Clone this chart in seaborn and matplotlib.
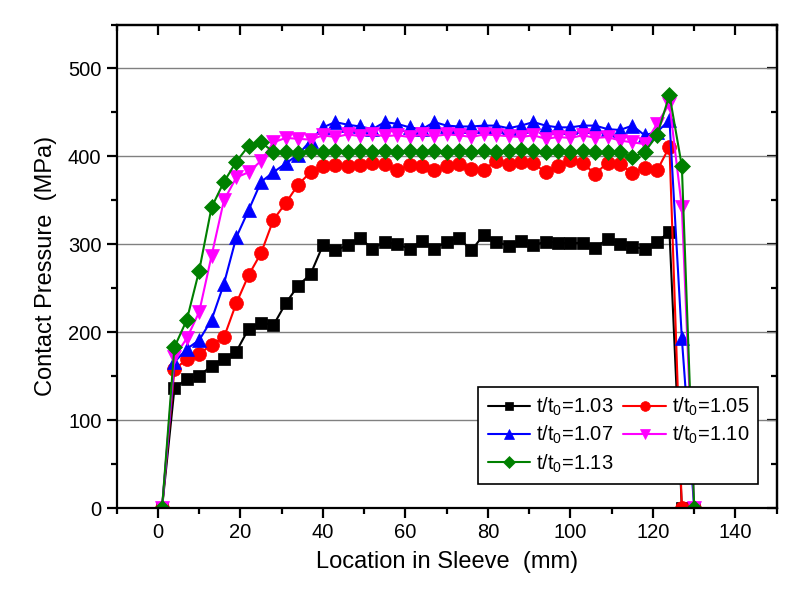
import matplotlib
matplotlib.use("Agg")
import matplotlib.pyplot as plt
import seaborn as sns
from matplotlib.ticker import MultipleLocator

sns.set_style("ticks")
plt.rcParams['font.family'] = ['Liberation Sans', 'DejaVu Sans']
plt.rcParams['mathtext.fontset'] = 'custom'
plt.rcParams['mathtext.rm'] = 'Liberation Sans'
for k in ['text.color', 'axes.labelcolor', 'xtick.color', 'ytick.color', 'axes.edgecolor']:
    plt.rcParams[k] = 'black'

# location in sleeve (mm)
x_mm = [1, 4, 7, 10, 13, 16, 19, 22, 25, 28, 31, 34, 37, 40, 43, 46, 49, 52, 55, 58,
        61, 64, 67, 70, 73, 76, 79, 82, 85, 88, 91, 94, 97, 100, 103, 106, 109, 112,
        115, 118, 121, 124, 127, 130]

# contact pressure (MPa) for each t/t0
p_103 = [0, 136, 147, 150, 162, 170, 178, 204, 211, 208, 233, 253, 266, 299, 293, 299,
         307, 295, 303, 300, 295, 304, 295, 303, 307, 293, 311, 303, 298, 304, 299, 303,
         302, 301, 302, 296, 306, 300, 297, 295, 303, 314, 0, 0]
p_105 = [0, 158, 169, 175, 186, 194, 233, 265, 290, 328, 347, 368, 382, 389, 390, 389,
         390, 392, 391, 384, 390, 389, 384, 389, 391, 386, 385, 395, 391, 394, 392, 382,
         389, 396, 392, 380, 393, 391, 381, 387, 384, 411, 0, 0]
p_107 = [0, 166, 181, 191, 214, 255, 308, 339, 371, 382, 392, 402, 418, 433, 439, 436,
         434, 431, 439, 437, 433, 431, 439, 435, 434, 434, 435, 435, 432, 435, 439, 435,
         433, 433, 435, 435, 431, 430, 435, 424, 428, 441, 193, 0]
p_110 = [0, 172, 193, 223, 287, 350, 376, 382, 395, 416, 421, 420, 419, 424, 422, 425,
         423, 425, 423, 424, 422, 425, 423, 425, 424, 422, 425, 424, 423, 422, 424, 420,
         422, 421, 424, 421, 422, 418, 416, 414, 437, 460, 342, 0]
p_113 = [0, 183, 214, 270, 342, 371, 394, 412, 416, 405, 405, 404, 406, 405, 406, 405,
         406, 405, 406, 405, 406, 405, 406, 405, 406, 405, 406, 405, 406, 407, 406, 405,
         406, 405, 406, 405, 405, 405, 399, 405, 424, 470, 389, 0]

labels = ['1.03', '1.05', '1.07', '1.10', '1.13']
colors = ['black', '#ff0000', '#0000ff', '#ff00ff', '#008000']
markers = ['s', 'o', '^', 'v', 'D']
msizes = [9, 10, 10.5, 10.5, 8.5]

fig = plt.figure(figsize=(8.08, 5.95), dpi=100)
ax = fig.add_axes([0.1444, 0.1462, 0.8169, 0.8126])

series = [p_103, p_105, p_107, p_110, p_113]
for y, lab, c, m, ms in zip(series, labels, colors, markers, msizes):
    sns.lineplot(x=x_mm, y=y, ax=ax, color=c, marker=m, markersize=ms,
                 markeredgecolor=c, markeredgewidth=0.5, linewidth=1.5,
                 label=r't/t$_\mathregular{0}$=' + lab)

ax.set_xlim(-10, 150)
ax.set_ylim(0, 550)
ax.xaxis.set_major_locator(MultipleLocator(20))
ax.xaxis.set_minor_locator(MultipleLocator(10))
ax.yaxis.set_major_locator(MultipleLocator(100))
ax.yaxis.set_minor_locator(MultipleLocator(50))
ax.set_yticks([0, 100, 200, 300, 400, 500])
ax.grid(axis='y', which='major', color='#808080', linewidth=1)
ax.set_axisbelow(True)

for s in ax.spines.values():
    s.set_linewidth(1.6)
    s.set_visible(True)
ax.tick_params(which='major', direction='out', length=7, width=1.6, labelsize=14.5, pad=4)
ax.tick_params(which='minor', direction='out', length=4, width=1.6)

# inward ticks on top and right, like the original
top = ax.secondary_xaxis('top')
top.xaxis.set_major_locator(MultipleLocator(20))
top.xaxis.set_minor_locator(MultipleLocator(10))
top.tick_params(which='major', direction='in', length=7, width=1.6, labeltop=False)
top.tick_params(which='minor', direction='in', length=4, width=1.6)
right = ax.secondary_yaxis('right')
right.yaxis.set_major_locator(MultipleLocator(100))
right.yaxis.set_minor_locator(MultipleLocator(50))
right.tick_params(which='major', direction='in', length=7, width=1.6, labelright=False)
right.tick_params(which='minor', direction='in', length=4, width=1.6)
for sec in (top, right):
    for s in sec.spines.values():
        s.set_linewidth(1.6)

ax.set_xlabel('Location in Sleeve  (mm)', fontsize=17, labelpad=6)
ax.set_ylabel('Contact Pressure  (MPa)', fontsize=17, labelpad=8)

handles, labs = ax.get_legend_handles_labels()
order = [0, 2, 4, 1, 3]
leg = ax.legend([handles[i] for i in order], [labs[i] for i in order], ncol=2,
                loc='lower right', bbox_to_anchor=(0.972, 0.05), borderaxespad=0,
                fontsize=14.5, handlelength=2.1, handletextpad=0.3, columnspacing=0.5,
                labelspacing=0.3, borderpad=0.45, markerscale=0.7,
                fancybox=False, framealpha=1, edgecolor='black')
leg.get_frame().set_linewidth(1.2)

plt.savefig('out.png', dpi=100)
plt.close()
